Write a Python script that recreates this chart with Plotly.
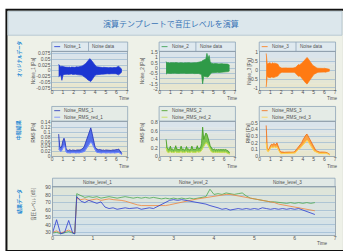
import plotly.graph_objects as go

W, H = 343, 251
def X(p): return p / W
def Y(p): return 1 - p / H

FONT = "Liberation Sans, Arial, Noto Sans CJK JP, sans-serif"
JFONT = "Noto Sans CJK JP, sans-serif"

# ---------------- data ----------------
t_wave = [0.6, 0.7, 0.8, 0.9, 1.0, 1.1, 1.2, 1.3, 1.4, 1.5,
          1.6, 1.7, 1.8, 1.9, 2.0, 2.1, 2.2, 2.3, 2.4, 2.5,
          2.6, 2.7, 2.8, 2.9, 3.0, 3.1, 3.2, 3.3, 3.4, 3.5,
          3.6, 3.7, 3.8, 3.9, 4.0, 4.1, 4.2, 4.3, 4.4, 4.5,
          4.6, 4.7, 4.8, 4.9, 5.0, 5.1, 5.2, 5.3, 5.4, 5.5,
          5.6, 5.7, 5.8, 5.9, 6.0, 6.1, 6.2, 6.3, 6.4, 6.5]

noise1_upper = [0.028, 0.022, 0.018, 0.020, 0.020, 0.017, 0.016, 0.015, 0.017, 0.015,
                0.016, 0.014, 0.016, 0.015, 0.017, 0.015, 0.016, 0.018, 0.016, 0.017,
                0.019, 0.018, 0.021, 0.024, 0.026, 0.031, 0.036, 0.042, 0.047, 0.053,
                0.049, 0.043, 0.034, 0.026, 0.021, 0.019, 0.017, 0.016, 0.017, 0.015,
                0.016, 0.014, 0.015, 0.014, 0.015, 0.013, 0.014, 0.013, 0.014, 0.012,
                0.013, 0.014, 0.013, 0.014, 0.015, 0.017, 0.020, 0.015, 0.011, 0.006]
noise1_lower = [-0.026, -0.020, -0.019, -0.042, -0.021, -0.016, -0.015, -0.016, -0.015, -0.016,
                -0.015, -0.015, -0.014, -0.016, -0.015, -0.016, -0.015, -0.017, -0.017, -0.016,
                -0.018, -0.019, -0.020, -0.023, -0.027, -0.030, -0.034, -0.039, -0.043, -0.046,
                -0.047, -0.041, -0.033, -0.025, -0.020, -0.018, -0.017, -0.015, -0.016, -0.015,
                -0.015, -0.015, -0.014, -0.015, -0.013, -0.014, -0.013, -0.014, -0.012, -0.013,
                -0.013, -0.012, -0.014, -0.013, -0.014, -0.016, -0.018, -0.014, -0.010, -0.005]

noise2_upper = [0.62, 0.50, 0.53, 0.48, 0.52, 0.50, 0.54, 0.49, 0.51, 0.53,
                0.50, 0.52, 0.48, 0.51, 0.53, 0.50, 0.49, 0.52, 0.51, 0.50,
                0.53, 0.50, 0.52, 0.49, 0.51, 0.53, 0.50, 0.52, 0.51, 0.54,
                0.52, 0.55, 0.58, 0.62, 0.72, 0.78, 0.82, 0.86, 1.40, 0.90,
                1.20, 0.60, 0.47, 0.43, 0.42, 0.44, 0.41, 0.43, 0.42, 0.40,
                0.43, 0.41, 0.42, 0.40, 0.41, 0.42, 0.40, 0.38, 0.35, 0.28]
noise2_lower = [-0.58, -0.49, -0.50, -0.52, -0.48, -0.51, -0.50, -0.53, -0.49, -0.50,
                -0.52, -0.49, -0.51, -0.50, -0.48, -0.52, -0.50, -0.49, -0.51, -0.50,
                -0.49, -0.52, -0.50, -0.51, -0.49, -0.50, -0.52, -0.50, -0.49, -0.53,
                -0.51, -0.54, -0.57, -0.60, -1.50, -0.76, -0.80, -0.84, -0.88, -0.85,
                -0.72, -0.56, -0.46, -0.44, -0.42, -0.43, -0.41, -0.42, -0.40, -0.42,
                -0.41, -0.40, -0.42, -0.41, -0.40, -0.41, -0.39, -0.37, -0.33, -0.26]

noise3_upper = [0.95, 0.35, 0.38, 0.42, 0.40, 0.36, 0.42, 0.38, 0.40, 0.37,
                0.35, 0.33, 0.20, 0.15, 0.13, 0.12, 0.13, 0.11, 0.12, 0.13,
                0.12, 0.11, 0.12, 0.13, 0.12, 0.12, 0.13, 0.15, 0.20, 0.28,
                0.32, 0.30, 0.33, 0.40, 0.45, 0.52, 0.60, 0.68, 0.72, 0.65,
                0.55, 0.45, 0.38, 0.30, 0.25, 0.20, 0.16, 0.13, 0.11, 0.10,
                0.11, 0.10, 0.11, 0.10, 0.11, 0.10, 0.11, 0.09, 0.08, 0.05]
noise3_lower = [-0.95, -0.33, -0.40, -0.41, -0.42, -0.38, -0.40, -0.41, -0.39, -0.38,
                -0.36, -0.32, -0.22, -0.16, -0.13, -0.12, -0.12, -0.13, -0.11, -0.12,
                -0.13, -0.12, -0.11, -0.12, -0.13, -0.12, -0.12, -0.16, -0.22, -0.30,
                -0.34, -0.33, -0.36, -0.44, -0.50, -0.58, -0.66, -0.74, -0.78, -0.70,
                -0.60, -0.48, -0.40, -0.32, -0.26, -0.21, -0.17, -0.14, -0.12, -0.11,
                -0.10, -0.11, -0.10, -0.11, -0.10, -0.11, -0.10, -0.09, -0.08, -0.05]

rms1 = [0.092, 0.040, 0.035, 0.045, 0.065, 0.075, 0.060, 0.030, 0.026, 0.024,
        0.027, 0.025, 0.024, 0.026, 0.025, 0.027, 0.024, 0.026, 0.025, 0.027,
        0.026, 0.028, 0.030, 0.034, 0.042, 0.055, 0.070, 0.085, 0.100, 0.112,
        0.118, 0.100, 0.075, 0.050, 0.038, 0.032, 0.029, 0.027, 0.028, 0.026,
        0.027, 0.025, 0.026, 0.024, 0.026, 0.025, 0.024, 0.026, 0.025, 0.024,
        0.026, 0.025, 0.026, 0.027, 0.026, 0.028, 0.030, 0.025, 0.018, 0.012]
rms_red1 = [0.030, 0.022, 0.020, 0.025, 0.035, 0.045, 0.038, 0.018, 0.015, 0.014,
            0.015, 0.014, 0.015, 0.016, 0.014, 0.015, 0.014, 0.016, 0.015, 0.014,
            0.015, 0.016, 0.017, 0.018, 0.020, 0.026, 0.033, 0.042, 0.050, 0.057,
            0.060, 0.055, 0.045, 0.032, 0.024, 0.019, 0.016, 0.015, 0.016, 0.015,
            0.014, 0.015, 0.016, 0.015, 0.014, 0.015, 0.016, 0.015, 0.014, 0.015,
            0.016, 0.015, 0.014, 0.015, 0.016, 0.015, 0.016, 0.014, 0.010, 0.007]

rms2 = [0.40, 0.20, 0.17, 0.16, 0.24, 0.16, 0.17, 0.15, 0.17, 0.25,
        0.16, 0.17, 0.15, 0.16, 0.24, 0.16, 0.17, 0.15, 0.16, 0.23,
        0.16, 0.17, 0.15, 0.16, 0.24, 0.16, 0.17, 0.16, 0.17, 0.25,
        0.17, 0.18, 0.20, 0.30, 0.69, 0.40, 0.48, 0.55, 0.52, 0.45,
        0.35, 0.25, 0.20, 0.17, 0.16, 0.17, 0.15, 0.16, 0.15, 0.16,
        0.15, 0.16, 0.15, 0.16, 0.15, 0.16, 0.15, 0.14, 0.12, 0.08]
rms_red2 = [0.20, 0.11, 0.09, 0.10, 0.11, 0.09, 0.10, 0.09, 0.10, 0.11,
            0.09, 0.10, 0.09, 0.10, 0.11, 0.09, 0.10, 0.09, 0.10, 0.11,
            0.09, 0.10, 0.09, 0.10, 0.11, 0.09, 0.10, 0.09, 0.10, 0.11,
            0.10, 0.10, 0.11, 0.14, 0.20, 0.24, 0.28, 0.32, 0.31, 0.27,
            0.20, 0.15, 0.11, 0.10, 0.09, 0.10, 0.09, 0.10, 0.09, 0.10,
            0.09, 0.10, 0.09, 0.10, 0.09, 0.10, 0.09, 0.08, 0.07, 0.05]

rms3 = [0.46, 0.12, 0.10, 0.12, 0.16, 0.18, 0.17, 0.19, 0.18, 0.17,
        0.20, 0.15, 0.10, 0.07, 0.065, 0.06, 0.062, 0.058, 0.06, 0.063,
        0.06, 0.058, 0.062, 0.06, 0.061, 0.06, 0.063, 0.08, 0.10, 0.13,
        0.15, 0.16, 0.18, 0.20, 0.24, 0.27, 0.30, 0.32, 0.33, 0.30,
        0.26, 0.22, 0.19, 0.16, 0.13, 0.11, 0.09, 0.08, 0.07, 0.065,
        0.06, 0.062, 0.058, 0.06, 0.061, 0.059, 0.06, 0.05, 0.04, 0.03]
rms_red3 = [0.20, 0.08, 0.07, 0.09, 0.12, 0.14, 0.13, 0.14, 0.14, 0.13,
            0.14, 0.11, 0.07, 0.05, 0.04, 0.04, 0.042, 0.039, 0.04, 0.041,
            0.04, 0.039, 0.041, 0.04, 0.04, 0.04, 0.041, 0.05, 0.07, 0.09,
            0.10, 0.11, 0.13, 0.15, 0.17, 0.19, 0.21, 0.23, 0.24, 0.22,
            0.19, 0.16, 0.13, 0.11, 0.09, 0.075, 0.065, 0.055, 0.045, 0.045,
            0.044, 0.046, 0.045, 0.044, 0.046, 0.045, 0.044, 0.04, 0.03, 0.02]

t_level = [0.0, 0.1, 0.2, 0.3, 0.4, 0.5, 0.55,
           0.6, 0.7, 0.8, 0.9, 1.0, 1.1, 1.2, 1.3, 1.4, 1.5,
           1.6, 1.7, 1.8, 1.9, 2.0, 2.1, 2.2, 2.3, 2.4, 2.5,
           2.6, 2.7, 2.8, 2.9, 3.0, 3.1, 3.2, 3.3, 3.4, 3.5,
           3.6, 3.7, 3.8, 3.9, 4.0, 4.1, 4.2, 4.3, 4.4, 4.5,
           4.6, 4.7, 4.8, 4.9, 5.0, 5.1, 5.2, 5.3, 5.4, 5.5,
           5.6, 5.7, 5.8, 5.9, 6.0, 6.1, 6.2, 6.3, 6.4, 6.5]
level1 = [29, 47, 28, 30, 46, 29, 28,
          78, 72, 70, 73, 71, 69, 71, 64, 62, 63,
          61, 62, 63, 62, 62, 63, 61, 62, 63, 62,
          65, 68, 71, 73, 74, 73, 74, 73, 72, 72,
          71, 70, 68, 66, 65, 63, 61, 62, 60, 61,
          62, 61, 62, 61, 62, 61, 63, 62, 61, 62,
          61, 62, 61, 62, 61, 62, 60, 59, 57, 54]
level2 = [29, 30, 28, 29, 31, 29, 28,
          82, 79, 77, 78, 77, 78, 76, 77, 78, 77,
          76, 77, 78, 77, 76, 77, 76, 77, 76, 77,
          76, 75, 76, 75, 76, 75, 76, 75, 76, 75,
          76, 77, 78, 88, 81, 82, 81, 83, 82, 81,
          82, 83, 79, 76, 75, 74, 73, 72, 71, 71,
          70, 70, 69, 70, 69, 70, 69, 70, 69, 70]
level3 = [30, 32, 29, 31, 33, 30, 29,
          76, 74, 75, 73, 74, 75, 73, 74, 75, 74,
          74, 73, 72, 70, 68, 67, 66, 66, 65, 66,
          65, 66, 66, 67, 68, 69, 70, 71, 72, 74,
          75, 76, 77, 78, 79, 80, 80, 81, 81, 80,
          80, 79, 77, 76, 75, 74, 73, 72, 71, 70,
          68, 67, 66, 65, 64, 63, 62, 61, 60, 59]

wave_names = ["Noise_1", "Noise_2", "Noise_3"]
rms_names = ["Noise_RMS_1", "Noise_RMS_2", "Noise_RMS_3"]
rms_red_names = ["Noise_RMS_red_1", "Noise_RMS_red_2", "Noise_RMS_red_3"]
level_names = ["Noise_level_1", "Noise_level_2", "Noise_level_3"]
row_labels = ["オリジナルデータ", "中間結果", "結果データ"]
title_text = "演算テンプレートで音圧レベルを演算"

wave_ticks = [[-0.075, -0.05, -0.025, 0, 0.025, 0.05, 0.075],
              [-2, -1.5, -1, -0.5, 0, 0.5, 1, 1.5],
              [-1, -0.5, 0, 0.5, 1]]
rms_ticks = [[0, 0.02, 0.04, 0.06, 0.08, 0.1, 0.12, 0.14],
             [0, 0.2, 0.4, 0.6, 0.8],
             [0, 0.1, 0.2, 0.3, 0.4, 0.5]]
level_ticks = [30, 40, 50, 60, 70, 80, 90]
time_ticks = [0, 1, 2, 3, 4, 5, 6, 7]

# ---------------- styling ----------------
COL = ["#1c36d2", "#2f9a48", "#ff7a12"]
COL_RMS = ["#2230b8", "#3f9a1c", "#f26a10"]
COL_RED = ["#6f86ff", "#c4e04a", "#ffd24a"]
COL_FILL = ["rgba(60,90,235,0.85)", "rgba(110,190,60,0.85)", "rgba(255,150,40,0.85)"]
COL_LEVEL = ["#2a3ad0", "#4aa84e", "#f0843a"]

fig = go.Figure()

axes_wave = [("x", "y"), ("x2", "y2"), ("x3", "y3")]
axes_rms = [("x4", "y4"), ("x5", "y5"), ("x6", "y6")]

waves = [(noise1_upper, noise1_lower), (noise2_upper, noise2_lower), (noise3_upper, noise3_lower)]
for i, ((xa, ya), (up, lo)) in enumerate(zip(axes_wave, waves)):
    fig.add_trace(go.Scatter(x=t_wave, y=lo, mode="lines", xaxis=xa, yaxis=ya,
                             line=dict(color=COL[i], width=0.7), showlegend=False, hoverinfo="skip"))
    fig.add_trace(go.Scatter(x=t_wave, y=up, mode="lines", xaxis=xa, yaxis=ya, fill="tonexty",
                             fillcolor=COL[i], line=dict(color=COL[i], width=0.7),
                             showlegend=False, hoverinfo="skip"))

rms_sets = [(rms1, rms_red1), (rms2, rms_red2), (rms3, rms_red3)]
for i, ((xa, ya), (r, rr)) in enumerate(zip(axes_rms, rms_sets)):
    fig.add_trace(go.Scatter(x=t_wave, y=rr, mode="lines", xaxis=xa, yaxis=ya,
                             line=dict(color=COL_RED[i], width=0.8), showlegend=False, hoverinfo="skip"))
    fig.add_trace(go.Scatter(x=t_wave, y=r, mode="lines", xaxis=xa, yaxis=ya, fill="tonexty",
                             fillcolor=COL_FILL[i], line=dict(color=COL_RMS[i], width=0.8),
                             showlegend=False, hoverinfo="skip"))
    fig.add_trace(go.Scatter(x=t_wave, y=rr, mode="lines", xaxis=xa, yaxis=ya,
                             line=dict(color=COL_RED[i], width=0.8), showlegend=False, hoverinfo="skip"))

for lv, col in [(level2, COL_LEVEL[1]), (level3, COL_LEVEL[2]), (level1, COL_LEVEL[0])]:
    fig.add_trace(go.Scatter(x=t_level, y=lv, mode="lines", xaxis="x7", yaxis="y7",
                             line=dict(color=col, width=0.8), showlegend=False, hoverinfo="skip"))

# ---------------- axes ----------------
panel_x = [(51.7, 127.3), (160.0, 236.0), (261.0, 337.0)]
row_y = [(50.0, 88.8), (122.0, 157.0)]

tickfont = dict(family=FONT, size=5, color="#505050")
common_x = dict(range=[0, 7], tickvals=time_ticks, showgrid=False, zeroline=False,
                showline=True, linecolor="#8a9aa8", linewidth=0.8, mirror=True,
                ticks="", tickfont=tickfont, fixedrange=True, ticklabelstandoff=-2)
common_y = dict(showgrid=True, gridcolor="#8fb0cf", gridwidth=0.6, zeroline=False,
                showline=True, linecolor="#8a9aa8", linewidth=0.8, mirror=True,
                ticks="", tickfont=tickfont, fixedrange=True)

layout_axes = {}
n = 1
y_ranges = [[-0.083, 0.083], [-2.05, 1.55], [-1.1, 1.04],
            [0, 0.142], [0, 0.81], [0, 0.51]]
y_tick_sets = wave_ticks + rms_ticks
for r in range(2):
    for c in range(3):
        xk = "xaxis" if n == 1 else f"xaxis{n}"
        yk = "yaxis" if n == 1 else f"yaxis{n}"
        xa = "x" if n == 1 else f"x{n}"
        ya = "y" if n == 1 else f"y{n}"
        layout_axes[xk] = dict(common_x, domain=[X(panel_x[c][0]), X(panel_x[c][1])], anchor=ya)
        tv = y_tick_sets[n - 1]
        layout_axes[yk] = dict(common_y, domain=[Y(row_y[r][1]), Y(row_y[r][0])], anchor=xa,
                               range=y_ranges[n - 1], tickvals=tv, ticktext=["%g" % v for v in tv])
        n += 1
layout_axes["xaxis7"] = dict(common_x, domain=[X(52), X(337)], anchor="y7")
layout_axes["yaxis7"] = dict(common_y, domain=[Y(238), Y(188.5)], anchor="x7",
                             range=[26, 91], tickvals=level_ticks)

# ---------------- shapes ----------------
shapes = []
shapes.append(dict(type="rect", xref="paper", yref="paper", x0=X(5.5), x1=X(346), y0=Y(254), y1=Y(7),
                   fillcolor="#eef1e8", line=dict(color="#111111", width=2), layer="below"))
shapes.append(dict(type="rect", xref="paper", yref="paper", x0=X(7), x1=X(344), y0=Y(33), y1=Y(8.5),
                   fillcolor="#dce7ec", line=dict(color="#b9c9d2", width=1), layer="below"))

def lerp(c1, c2, f):
    a = [int(c1[k:k + 2], 16) for k in (1, 3, 5)]
    b = [int(c2[k:k + 2], 16) for k in (1, 3, 5)]
    return "#%02x%02x%02x" % tuple(round(a[j] + (b[j] - a[j]) * f) for j in range(3))

def bands(xa, ya, top, bottom, nb=6):
    for k in range(nb):
        f = (k + 0.5) / nb
        shapes.append(dict(type="rect", xref=f"{xa} domain", yref=f"{ya} domain",
                           x0=0, x1=1, y0=1 - (k + 1) / nb, y1=1 - k / nb,
                           fillcolor=lerp(top, bottom, f), line=dict(width=0), layer="below"))

for xa, ya in axes_wave + axes_rms:
    bands(xa, ya, "#d9e4ee", "#e8e6cc")
bands("x7", "y7", "#dfe5d8", "#d2e1ec")

for c in range(3):
    L, R = panel_x[c]
    shapes.append(dict(type="rect", xref="paper", yref="paper", x0=X(L - 0.5), x1=X(R + 0.5),
                       y0=Y(49.5), y1=Y(40), fillcolor="#dfe9ef",
                       line=dict(color="#8ea4b8", width=0.8), layer="below"))
    shapes.append(dict(type="line", xref="paper", yref="paper", x0=X(L + 36.6), x1=X(L + 36.6),
                       y0=Y(49.5), y1=Y(40), line=dict(color="#8ea4b8", width=0.8)))
    shapes.append(dict(type="line", xref="paper", yref="paper", x0=X(L + 2), x1=X(L + 8),
                       y0=Y(44.7), y1=Y(44.7), line=dict(color=COL[c], width=0.8)))
    shapes.append(dict(type="rect", xref="paper", yref="paper", x0=X(L - 0.5), x1=X(R + 0.5),
                       y0=Y(121), y1=Y(106), fillcolor="#e4ebe6",
                       line=dict(color="#8ea4b8", width=0.8), layer="below"))
    shapes.append(dict(type="line", xref="paper", yref="paper", x0=X(L + 2), x1=X(L + 8),
                       y0=Y(110.3), y1=Y(110.3), line=dict(color=COL_RMS[c], width=0.8)))
    shapes.append(dict(type="line", xref="paper", yref="paper", x0=X(L + 2), x1=X(L + 8),
                       y0=Y(117), y1=Y(117), line=dict(color=COL_RED[c], width=0.8)))

shapes.append(dict(type="rect", xref="paper", yref="paper", x0=X(52), x1=X(337), y0=Y(188.5), y1=Y(179.5),
                   fillcolor="#e1e9e6", line=dict(color="#8ea4b8", width=0.8), layer="below"))

# ---------------- annotations ----------------
ann = []
def txt(x, y, s, size=5, color="#505050", angle=0, xanchor="center", family=FONT):
    ann.append(dict(x=X(x), y=Y(y), xref="paper", yref="paper", text=s, showarrow=False,
                    font=dict(family=family, size=size, color=color), textangle=angle,
                    xanchor=xanchor, yanchor="middle"))

txt(172, 20.5, title_text, size=8, color="#3a74b6", family=JFONT)
txt(18, 57.5, "<b>" + row_labels[0] + "</b>", size=4.5, color="#2a8ad4", angle=-90, family=JFONT)
txt(18, 130.5, "<b>" + row_labels[1] + "</b>", size=5, color="#2a8ad4", angle=-90, family=JFONT)
txt(18, 203, "<b>" + row_labels[2] + "</b>", size=5, color="#2a8ad4", angle=-90, family=JFONT)

ytitle_x = [33, 143, 250.5]
for c in range(3):
    L, R = panel_x[c]
    txt(L + 10, 44.7, wave_names[c], xanchor="left", size=4.6)
    txt(L + 38.5, 44.7, "Noise data", xanchor="left", size=4.6)
    txt(L + 10, 110.3, rms_names[c], xanchor="left", size=4.6)
    txt(L + 10, 117, rms_red_names[c], xanchor="left", size=4.6)
    txt(ytitle_x[c], 70, wave_names[c] + " [Pa]", angle=-90, size=4.6)
    txt(ytitle_x[c], 133, "RMS [Pa]", angle=-90, size=4.6)
    txt(R - 3, 98, "Time", size=4.6)
    txt(R - 3, 167.5, "Time", size=4.6)

txt(97, 184, level_names[0], size=4.6)
txt(194, 184, level_names[1], size=4.6)
txt(289, 184, level_names[2], size=4.6)
txt(32, 206, "音圧レベル [dB]", angle=-90, size=4.6, family=JFONT)
txt(324, 246, "Time", size=4.6)

fig.update_layout(
    width=W, height=H, autosize=False,
    margin=dict(l=0, r=0, t=0, b=0),
    paper_bgcolor="#ffffff", plot_bgcolor="#e4e8dc",
    showlegend=False, shapes=shapes, annotations=ann,
    font=dict(family=FONT, size=5, color="#505050"),
    **layout_axes
)

fig.write_html("out.html", config={"displayModeBar": False, "staticPlot": True},
               post_script="document.body.style.margin='0';document.body.style.overflow='hidden';")
